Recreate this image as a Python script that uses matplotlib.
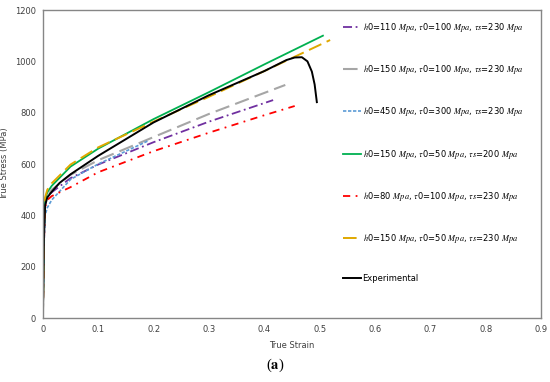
import numpy as np
import matplotlib.pyplot as plt

plt.rcParams['mathtext.fontset'] = 'stix'

# curves (strain, true stress in MPa)
red_x = [0, 0.002, 0.004, 0.008, 0.016, 0.05, 0.1, 0.2, 0.3, 0.4, 0.455]
red_y = [0, 300, 430, 460, 475, 510, 568, 650, 722, 790, 826]

purple_x = [0, 0.002, 0.004, 0.008, 0.016, 0.05, 0.1, 0.2, 0.3, 0.416]
purple_y = [0, 320, 440, 470, 490, 545, 598, 685, 765, 849]

gray_x = [0, 0.002, 0.004, 0.008, 0.016, 0.05, 0.1, 0.2, 0.3, 0.438]
gray_y = [0, 330, 445, 475, 500, 558, 615, 705, 795, 908]

blue_x = [0, 0.002, 0.004, 0.008, 0.016, 0.05, 0.1, 0.19]
blue_y = [0, 280, 400, 430, 460, 540, 600, 690]

green_x = [0, 0.002, 0.004, 0.008, 0.016, 0.05, 0.1, 0.2, 0.3, 0.4, 0.506]
green_y = [0, 350, 460, 490, 515, 590, 660, 775, 880, 988, 1100]

orange_x = [0, 0.002, 0.004, 0.008, 0.016, 0.05, 0.1, 0.2, 0.3, 0.4, 0.519]
orange_y = [0, 360, 470, 500, 525, 598, 665, 765, 862, 962, 1083]

exp_x = [0, 0.002, 0.004, 0.008, 0.016, 0.03, 0.05, 0.1, 0.2, 0.3, 0.4, 0.44, 0.455, 0.468, 0.478, 0.486, 0.491, 0.495]
exp_y = [0, 320, 440, 470, 492, 526, 560, 632, 762, 868, 962, 1005, 1015, 1016, 1000, 960, 910, 841]

labels = [
    r'$h$0=110 $Mpa$, $\tau$0=100 $Mpa$, $\tau s$=230 $Mpa$',
    r'$h$0=150 $Mpa$, $\tau$0=100 $Mpa$, $\tau s$=230 $Mpa$',
    r'$h$0=450 $Mpa$, $\tau$0=300 $Mpa$, $\tau s$=230 $Mpa$',
    r'$h$0=150 $Mpa$, $\tau$0=50 $Mpa$, $\tau s$=200 $Mpa$',
    r'$h$0=80 $Mpa$, $\tau$0=100 $Mpa$, $\tau s$=230 $Mpa$',
    r'$h$0=150 $Mpa$, $\tau$0=50 $Mpa$, $\tau s$=230 $Mpa$',
    'Experimental',
]

fig = plt.figure(figsize=(5.5, 3.82), dpi=100)
ax = fig.add_axes([0.078, 0.1675, 0.9056, 0.8063])

ax.plot(purple_x, purple_y, color='#7030A0', lw=1.3, dashes=(5, 2, 1, 2), label=labels[0])
ax.plot(gray_x, gray_y, color='#A6A6A6', lw=1.5, dashes=(7, 3), label=labels[1])
ax.plot(blue_x, blue_y, color='#5B9BD5', lw=1.2, dashes=(2, 1), label=labels[2])
ax.plot(green_x, green_y, color='#00B050', lw=1.3, label=labels[3])
ax.plot(red_x, red_y, color='#FF0000', lw=1.3, dashes=(4, 3, 1, 3), label=labels[4])
ax.plot(orange_x, orange_y, color='#E0A800', lw=1.4, dashes=(7, 3), label=labels[5])
ax.plot(exp_x, exp_y, color='black', lw=1.4, label=labels[6])

ax.set_xlim(0, 0.9)
ax.set_ylim(0, 1200)
ax.set_xticks(np.arange(0, 0.91, 0.1))
ax.set_xticklabels(['0', '0.1', '0.2', '0.3', '0.4', '0.5', '0.6', '0.7', '0.8', '0.9'])
ax.set_yticks(np.arange(0, 1201, 200))
ax.tick_params(length=0, labelsize=6, colors='#404040', pad=5)
for s in ax.spines.values():
    s.set_color('#868686')
    s.set_linewidth(1)

ax.set_xlabel('True Strain', fontsize=6, color='#404040', labelpad=5)
ax.set_ylabel('True Stress (MPa)', fontsize=6, color='#404040', labelpad=4)

leg = ax.legend(loc='upper left', bbox_to_anchor=(0.595, 0.975), frameon=False,
                fontsize=6, handlelength=2.2, handletextpad=0.2, labelspacing=3.5,
                borderaxespad=0)

fig.text(0.5, 0.035, r'($\mathbf{a}$)', ha='center', fontsize=10.5, family='Liberation Serif')

fig.savefig('out.png', dpi=100)
